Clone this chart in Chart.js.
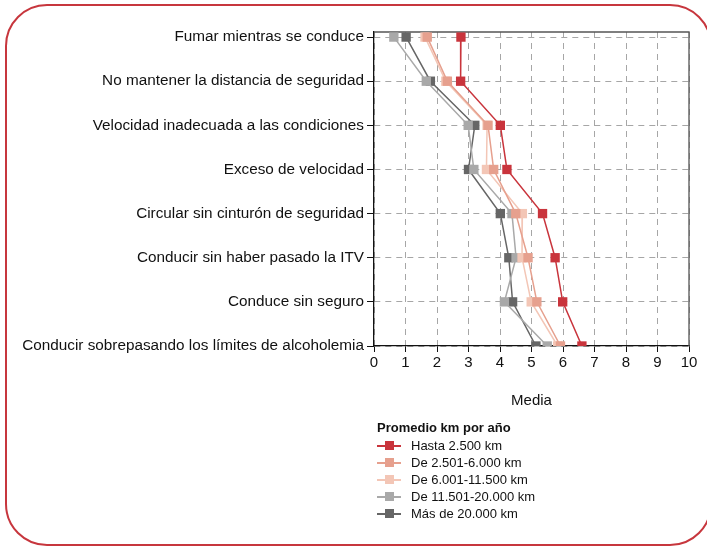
<!DOCTYPE html>
<html>
<head>
<meta charset="utf-8">
<script src="https://cdn.jsdelivr.net/npm/chart.js@4"></script>
<style>
  html, body { margin: 0; padding: 0; background: #fff; }
  body { width: 707px; height: 548px; position: relative; overflow: hidden; font-family: "Liberation Sans", Arial, sans-serif; }
  #frame { position: absolute; left: 5px; top: 4px; width: 703px; height: 538px; border: 2.5px solid #c7363d; border-radius: 42px; box-sizing: content-box; pointer-events: none; }
  #wrap { position: absolute; left: 0; top: 0; width: 707px; height: 548px; }
  #legend { position: absolute; left: 377px; top: 419px; font-size: 13px; color: #111; }
  #legend .title { font-weight: bold; margin-bottom: 1px; height: 17px; line-height: 17px; }
  #legend .item { height: 17px; line-height: 17px; display: flex; align-items: center; }
  #legend .swatch { position: relative; width: 24px; height: 17px; margin-right: 10px; }
  #legend .swatch .ln { position: absolute; left: 0; right: 0; top: 8px; height: 1.5px; }
  #legend .swatch .mk { position: absolute; left: 8px; top: 4px; width: 9px; height: 9px; }
</style>
</head>
<body>
<div id="wrap"><canvas id="chart" width="707" height="548"></canvas></div>
<div id="legend"></div>
<div id="frame"></div>
<script>
const categories = [
    'Fumar mientras se conduce',
    'No mantener la distancia de seguridad',
    'Velocidad inadecuada a las condiciones',
    'Exceso de velocidad',
    'Circular sin cinturón de seguridad',
    'Conducir sin haber pasado la ITV',
    'Conduce sin seguro',
    'Conducir sobrepasando los límites de alcoholemia'
];

const seriesNames = ['Hasta 2.500 km', 'De 2.501-6.000 km', 'De 6.001-11.500 km', 'De 11.501-20.000 km', 'Más de 20.000 km'];
const seriesColors = ['#c9343c', '#e6a08e', '#f3c6b6', '#a9a9a9', '#666666'];

const hasta2500 = [2.76, 2.75, 4.01, 4.22, 5.35, 5.75, 5.99, 6.60];
const de2501 = [1.69, 2.33, 3.62, 3.80, 4.50, 4.89, 5.17, 5.92];
const de6001 = [1.62, 2.28, 3.59, 3.57, 4.71, 4.70, 4.99, 5.83];
const de11501 = [0.63, 1.66, 2.99, 3.17, 4.38, 4.51, 4.14, 5.50];
const mas20000 = [1.02, 1.79, 3.20, 3.00, 4.01, 4.28, 4.40, 5.14];

const xTicks = [0, 1, 2, 3, 4, 5, 6, 7, 8, 9, 10];
const xTitle = 'Media';
const legendTitle = 'Promedio km por año';

const allSeries = [hasta2500, de2501, de6001, de11501, mas20000];
const lastIdx = categories.length - 1;

const datasets = allSeries.map((vals, s) => ({
    label: seriesNames[s],
    data: vals.map((v, i) => ({ x: v, y: lastIdx - i })),
    borderColor: seriesColors[s],
    backgroundColor: seriesColors[s],
    borderWidth: 1.5,
    pointStyle: 'rect',
    pointRadius: 6.6,
    pointHoverRadius: 6.6,
    pointBorderWidth: 0,
    tension: 0
}));

const frameBox = {
    id: 'frameBox',
    beforeDatasetsDraw(chart) {
        const { ctx, chartArea: a } = chart;
        ctx.save();
        ctx.strokeStyle = '#555';
        ctx.lineWidth = 1.3;
        ctx.beginPath();
        ctx.moveTo(a.left, a.top);
        ctx.lineTo(a.right, a.top);
        ctx.lineTo(a.right, a.bottom);
        ctx.stroke();
        ctx.restore();
    }
};

new Chart(document.getElementById('chart'), {
    type: 'line',
    data: { datasets },
    options: {
        responsive: false,
        animation: false,
        events: [],
        layout: { padding: { left: 0, right: 18, top: 32, bottom: 134 } },
        plugins: { legend: { display: false }, tooltip: { enabled: false } },
        scales: {
            x: {
                type: 'linear',
                min: 0,
                max: 10,
                afterBuildTicks: (scale) => { scale.ticks = xTicks.map(v => ({ value: v })); },
                afterFit: (scale) => { scale.height = 68; },
                ticks: { color: '#111', font: { size: 15, family: 'Liberation Sans' }, padding: 2, maxRotation: 0 },
                grid: { color: '#a6a6a6', lineWidth: 1, tickColor: '#111', tickLength: 6, tickBorderDash: [] },
                border: { color: '#111', width: 1.3, dash: [6, 5] },
                title: { display: true, text: xTitle, color: '#111', font: { size: 15, family: 'Liberation Sans' }, padding: { top: 21, bottom: 4 } }
            },
            y: {
                type: 'linear',
                min: 0,
                max: lastIdx + 0.115,
                afterBuildTicks: (scale) => { scale.ticks = categories.map((c, i) => ({ value: i })); },
                afterFit: (scale) => { scale.width = 374; },
                ticks: {
                    color: '#111',
                    font: { size: 15.3, family: 'Liberation Sans' },
                    padding: 3,
                    callback: (v) => categories[lastIdx - v]
                },
                grid: { color: '#a6a6a6', lineWidth: 1, tickColor: '#111', tickLength: 7, tickBorderDash: [] },
                border: { color: '#111', width: 1.3, dash: [6, 5] }
            }
        }
    },
    plugins: [frameBox]
});

const legend = document.getElementById('legend');
let html = `<div class="title">${legendTitle}</div>`;
seriesNames.forEach((name, s) => {
    html += `<div class="item"><span class="swatch"><span class="ln" style="background:${seriesColors[s]}"></span><span class="mk" style="background:${seriesColors[s]}"></span></span>${name}</div>`;
});
legend.innerHTML = html;
</script>
</body>
</html>
